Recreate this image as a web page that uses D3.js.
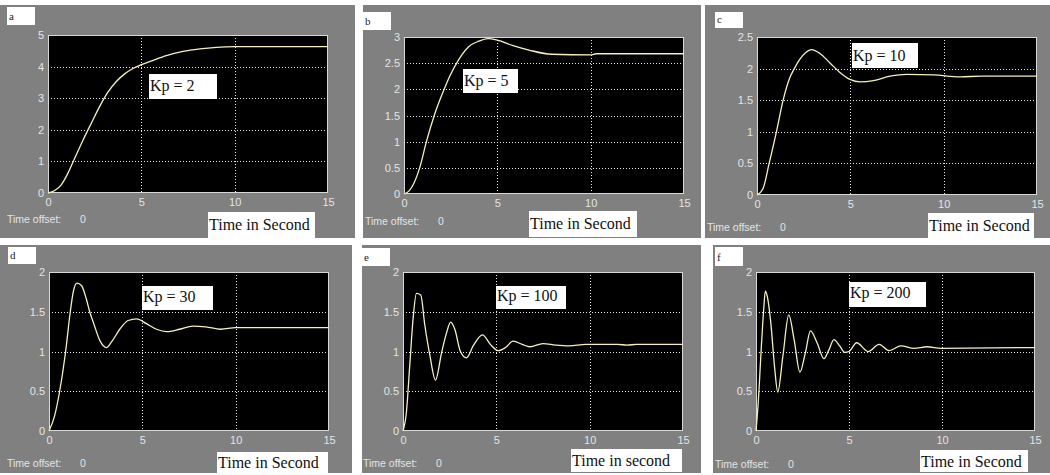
<!DOCTYPE html>
<html><head><meta charset="utf-8">
<script src="https://cdn.jsdelivr.net/npm/d3@7"></script>
<style>body{margin:0;background:#fff}svg{display:block}</style>
</head><body><svg id="chart" width="1050" height="475"></svg>
<script>
// ---------- data ----------
const panelLetters = ["a", "b", "c", "d", "e", "f"];
const kpLabels = ["Kp = 2", "Kp = 5", "Kp = 10", "Kp = 30", "Kp = 100", "Kp = 200"];
const xTitles = ["Time in Second", "Time in Second", "Time in Second", "Time in Second", "Time in second", "Time in Second"];
const offsetLabel = "Time offset:";
const offsetValue = "0";
const xTicks = [0, 5, 10, 15];
const yTicksA = [0, 1, 2, 3, 4, 5];
const yTicksB = [0, 0.5, 1, 1.5, 2, 2.5, 3];
const yTicksC = [0, 0.5, 1, 1.5, 2, 2.5];
const yTicksD = [0, 0.5, 1, 1.5, 2];
const yTicksE = [0, 0.5, 1, 1.5, 2];
const yTicksF = [0, 0.5, 1, 1.5, 2];

const timeA = [0, 0.36, 0.71, 1.07, 1.43, 1.88, 2.32, 2.77, 3.21, 3.66, 4.11, 4.55, 5.0, 5.63, 6.34, 7.23, 8.13, 9.02, 10.0, 15];
const respA = [0, 0.08, 0.26, 0.63, 1.1, 1.68, 2.21, 2.74, 3.19, 3.53, 3.77, 3.94, 4.06, 4.2, 4.35, 4.48, 4.56, 4.61, 4.63, 4.63];

const timeB = [0, 0.3, 0.55, 0.84, 1.2, 1.62, 2.15, 2.45, 2.9, 3.1, 3.45, 4.0, 4.5, 5.0, 5.8, 6.7, 7.9, 10.0, 10.3, 15];
const respB = [0, 0.07, 0.22, 0.5, 1.0, 1.5, 2.0, 2.25, 2.55, 2.66, 2.81, 2.92, 2.97, 2.94, 2.84, 2.75, 2.67, 2.66, 2.68, 2.68];

const timeC = [0, 0.32, 0.65, 1.04, 1.4, 1.75, 2.0, 2.3, 2.6, 2.92, 3.37, 3.91, 4.44, 4.98, 5.52, 6.24, 7.13, 8.03, 9.46, 10.9, 12.0, 15];
const respC = [0, 0.1, 0.5, 1.0, 1.5, 1.85, 2.0, 2.15, 2.25, 2.3, 2.24, 2.09, 1.94, 1.83, 1.79, 1.81, 1.88, 1.91, 1.9, 1.87, 1.88, 1.88];

const timeD = [0, 0.3, 0.57, 0.89, 1.14, 1.3, 1.5, 1.74, 2.0, 2.18, 2.4, 2.72, 3.08, 3.35, 3.79, 4.24, 4.69, 5.22, 5.76, 6.3, 7.0, 7.7, 8.4, 9.2, 10.0, 15];
const respD = [0, 0.19, 0.5, 1.0, 1.5, 1.75, 1.86, 1.83, 1.66, 1.5, 1.35, 1.14, 1.05, 1.12, 1.28, 1.39, 1.41, 1.35, 1.28, 1.25, 1.28, 1.32, 1.31, 1.28, 1.3, 1.3];

const timeE = [0, 0.18, 0.36, 0.54, 0.72, 0.95, 1.17, 1.44, 1.74, 2.07, 2.34, 2.55, 2.79, 3.06, 3.4, 3.78, 4.26, 4.68, 5.1, 5.49, 5.9, 6.38, 6.8, 7.5, 8.18, 8.9, 9.8, 10.5, 11.5, 12.0, 12.5, 15];
const respE = [0, 0.23, 0.82, 1.41, 1.73, 1.71, 1.33, 0.95, 0.64, 0.99, 1.24, 1.37, 1.27, 1.01, 0.92, 1.08, 1.21, 1.09, 1.01, 1.05, 1.13, 1.09, 1.06, 1.1, 1.08, 1.07, 1.09, 1.09, 1.09, 1.08, 1.09, 1.09];

const timeF = [0, 0.11, 0.29, 0.42, 0.5, 0.6, 0.8, 1.0, 1.17, 1.45, 1.76, 2.05, 2.36, 2.65, 2.93, 3.3, 3.65, 3.92, 4.19, 4.5, 4.77, 5.0, 5.41, 6.03, 6.62, 7.16, 7.79, 8.5, 9.2, 9.95, 15];
const respF = [0, 0.32, 1.07, 1.55, 1.76, 1.7, 1.35, 0.8, 0.49, 0.95, 1.46, 1.15, 0.74, 0.98, 1.26, 1.1, 0.91, 1.02, 1.15, 1.07, 0.99, 1.0, 1.11, 1.0, 1.09, 1.01, 1.07, 1.04, 1.06, 1.04, 1.05];

// ---------- layout (positions / sizes) ----------
const layout = [
  {g:[0,5,355,233],   p:[48,35,280,158],  lb:[7,7,28,18],    kp:[149,74,68,25, 91], tt:[208,212,107,26,230], to:[7,223]},
  {g:[363,5,338,233], p:[404,37,280,157], lb:[363,12,28,18], kp:[463,69,55,24, 86], tt:[529,211,108,26,229], to:[365,225]},
  {g:[705,5,345,233], p:[757,37,280,158], lb:[715,12,28,16], kp:[852,43,66,25, 61], tt:[928,213,106,26,231], to:[707,231]},
  {g:[0,245,352,228], p:[49,272,280,159], lb:[8,247,28,17],  kp:[142,286,71,24, 302], tt:[217,452,111,21,468], to:[7,467]},
  {g:[362,245,339,228],p:[403,272,280,159],lb:[362,248,28,18],kp:[496,286,70,23, 301], tt:[571,449,111,23,466], to:[363,467]},
  {g:[713,245,337,228],p:[756,272,279,159],lb:[715,247,28,19],kp:[849,282,77,25, 298], tt:[920,450,108,22,467], to:[715,468]}
];
const yTickSets = [yTicksA, yTicksB, yTicksC, yTicksD, yTicksE, yTicksF];
const series = [[timeA, respA], [timeB, respB], [timeC, respC], [timeD, respD], [timeE, respE], [timeF, respF]];

const svg = d3.select("#chart");
const sans = "'Liberation Sans', Arial, sans-serif";
const serif = "'Liberation Serif', 'DejaVu Serif', serif";
const fmt = d => String(d);

layout.forEach((L, i) => {
  const g = svg.append("g");
  g.append("rect").attr("x", L.g[0]).attr("y", L.g[1]).attr("width", L.g[2]).attr("height", L.g[3]).attr("fill", "#808080");
  const [px, py, pw, ph] = L.p;
  const yt = yTickSets[i];
  const x = d3.scaleLinear().domain([0, 15]).range([px, px + pw]);
  const y = d3.scaleLinear().domain([0, d3.max(yt)]).range([py + ph, py]);
  g.append("rect").attr("x", px).attr("y", py).attr("width", pw).attr("height", ph).attr("fill", "#000");
  const grid = g.append("g").attr("stroke", "#e8e8e8").attr("stroke-width", 1).attr("stroke-dasharray", "1,2");
  xTicks.slice(1, -1).forEach(t => {
    grid.append("line").attr("x1", Math.round(x(t)) + 0.5).attr("x2", Math.round(x(t)) + 0.5).attr("y1", py).attr("y2", py + ph);
  });
  yt.slice(1, -1).forEach(v => {
    grid.append("line").attr("y1", Math.round(y(v)) + 0.5).attr("y2", Math.round(y(v)) + 0.5).attr("x1", px).attr("x2", px + pw);
  });
  const xAxis = d3.axisBottom(x).tickValues(xTicks).tickSize(0).tickPadding(5).tickFormat(fmt);
  const yAxis = d3.axisLeft(y).tickValues(yt).tickSize(0).tickPadding(4).tickFormat(fmt);
  const ax = g.append("g").attr("transform", `translate(0,${py + ph})`).call(xAxis);
  const ay = g.append("g").attr("transform", `translate(${px},0)`).call(yAxis);
  [ax, ay].forEach(a => {
    a.select(".domain").remove();
    a.selectAll("text").attr("fill", "#e4e4e4").style("font-family", sans).style("font-size", "11px");
  });
  g.append("rect").attr("x", px + 0.5).attr("y", py + 0.5).attr("width", pw - 1).attr("height", ph - 1)
    .attr("fill", "none").attr("stroke", "#d8d8d8").attr("stroke-width", 1);
  const [ts, vs] = series[i];
  const pts = ts.map((t, k) => [t, vs[k]]);
  g.append("path").datum(pts)
    .attr("d", d3.line().x(d => x(d[0])).y(d => y(d[1])).curve(d3.curveMonotoneX))
    .attr("fill", "none").attr("stroke", "#f4f0c0").attr("stroke-width", 1.3);
  g.append("rect").attr("x", L.lb[0]).attr("y", L.lb[1]).attr("width", L.lb[2]).attr("height", L.lb[3]).attr("fill", "#fff");
  g.append("text").attr("x", L.lb[0] + 2).attr("y", L.lb[1] + L.lb[3] - 5).text(panelLetters[i])
    .style("font-family", serif).style("font-size", "11px").attr("fill", "#222");
  g.append("rect").attr("x", L.kp[0]).attr("y", L.kp[1]).attr("width", L.kp[2]).attr("height", L.kp[3]).attr("fill", "#fff");
  g.append("text").attr("x", L.kp[0] + 1).attr("y", L.kp[4]).text(kpLabels[i])
    .style("font-family", serif).style("font-size", "16px").attr("fill", "#111");
  g.append("rect").attr("x", L.tt[0]).attr("y", L.tt[1]).attr("width", L.tt[2]).attr("height", L.tt[3]).attr("fill", "#fff");
  g.append("text").attr("x", L.tt[0] + 1).attr("y", L.tt[4]).text(xTitles[i])
    .style("font-family", serif).style("font-size", "16px").attr("fill", "#111");
  g.append("text").attr("x", L.to[0]).attr("y", L.to[1]).text(offsetLabel)
    .style("font-family", sans).style("font-size", "10.5px").attr("fill", "#e4e4e4");
  g.append("text").attr("x", L.to[0] + 73).attr("y", L.to[1]).text(offsetValue)
    .style("font-family", sans).style("font-size", "10.5px").attr("fill", "#e4e4e4");
});
</script>
</body></html>
